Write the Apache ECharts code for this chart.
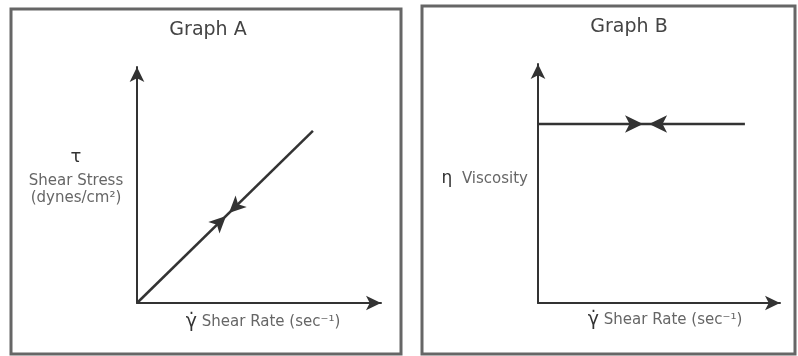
<!DOCTYPE html>
<html>
<head>
<meta charset="utf-8">
<script src="https://cdn.jsdelivr.net/npm/echarts@6/dist/echarts.min.js"></script>
<style>
html,body{margin:0;padding:0;background:#fff;}
#c{width:798px;height:356px;}
</style>
</head>
<body>
<div id="c"></div>
<script>
// ---- data ----
const titles = ['Graph A', 'Graph B'];
// Graph A: shear stress vs shear rate (straight line through origin)
const lineAX = [0, 7.21];
const lineAY = [0, 7.29];
const arrowsAX = [3.65, 3.77];
const arrowsAY = [3.69, 3.81];
// Graph B: viscosity vs shear rate (constant)
const lineBX = [0, 8.55];
const lineBY = [7.49, 7.49];
const arrowsBX = [4.34, 4.59];
const arrowsBY = [7.49, 7.49];
const axisMin = 0;
const axisMax = 10;

const FONT = 'DejaVu Sans';
const DARK = '#333';
const TXT = '#666';

function pairs(xs, ys) { return xs.map((x, i) => [x, ys[i]]); }

const axisCommon = {
  type: 'value', min: axisMin, max: axisMax,
  axisLine: { show: true, symbol: ['none', 'arrow'], symbolSize: [11, 15],
    lineStyle: { color: DARK, width: 2 } },
  axisTick: { show: false }, axisLabel: { show: false }, splitLine: { show: false }
};

const chart = echarts.init(document.getElementById('c'));
chart.setOption({
  animation: false,
  backgroundColor: '#fff',
  title: [
    { text: titles[0], left: 203, top: 16, textAlign: 'center',
      textStyle: { fontFamily: FONT, fontSize: 19, fontWeight: 'normal', color: '#444' } },
    { text: titles[1], left: 624, top: 13, textAlign: 'center',
      textStyle: { fontFamily: FONT, fontSize: 19, fontWeight: 'normal', color: '#444' } }
  ],
  graphic: [
    { type: 'rect', shape: { x: 11, y: 9, width: 390, height: 345 },
      style: { fill: 'none', stroke: '#666', lineWidth: 3 } },
    { type: 'rect', shape: { x: 422, y: 6, width: 373, height: 348 },
      style: { fill: 'none', stroke: '#666', lineWidth: 3 } }
  ],
  grid: [
    { left: 137, top: 67, width: 244, height: 236 },
    { left: 538, top: 64, width: 242, height: 239 }
  ],
  xAxis: [
    Object.assign({}, axisCommon, { gridIndex: 0, position: 'bottom',
      name: '{g|γ̇} Shear Rate (sec⁻¹)', nameLocation: 'middle', nameGap: 10,
      nameTextStyle: { verticalAlign: 'top', padding: [0, 0, 0, 8], fontFamily: FONT, fontSize: 15, color: TXT,
        rich: { g: { fontSize: 19, fontFamily: FONT, color: '#333', verticalAlign: 'middle' } } } }),
    Object.assign({}, axisCommon, { gridIndex: 1, position: 'bottom',
      name: '{g|γ̇} Shear Rate (sec⁻¹)', nameLocation: 'middle', nameGap: 8,
      nameTextStyle: { verticalAlign: 'top', padding: [0, 0, 0, 12], fontFamily: FONT, fontSize: 15, color: TXT,
        rich: { g: { fontSize: 19, fontFamily: FONT, color: '#333', verticalAlign: 'middle' } } } })
  ],
  yAxis: [
    Object.assign({}, axisCommon, { gridIndex: 0,
      name: '{t|τ}\n{s|Shear Stress}\n{s|(dynes/cm²)}', nameLocation: 'middle', nameRotate: 0, nameGap: 61,
      nameTextStyle: { align: 'center', verticalAlign: 'middle', padding: [0, 0, 22, 0], fontFamily: FONT, color: TXT,
        rich: { t: { fontSize: 18, lineHeight: 32, fontFamily: FONT, color: '#333' },
                s: { fontSize: 15, lineHeight: 17, fontFamily: FONT, color: TXT } } } }),
    Object.assign({}, axisCommon, { gridIndex: 1,
      name: '{e|η}  Viscosity', nameLocation: 'middle', nameRotate: 0, nameGap: 10,
      nameTextStyle: { align: 'right', verticalAlign: 'middle', padding: [0, 0, 9, 0], fontFamily: FONT, fontSize: 15, color: TXT,
        rich: { e: { fontSize: 17, fontFamily: FONT, color: '#333' } } } })
  ],
  series: [
    { type: 'line', xAxisIndex: 0, yAxisIndex: 0, data: pairs(lineAX, lineAY),
      symbol: 'none', lineStyle: { color: DARK, width: 2.5 } },
    { type: 'scatter', xAxisIndex: 0, yAxisIndex: 0, symbol: 'arrow', symbolSize: [12, 17],
      itemStyle: { color: DARK, opacity: 1 },
      data: pairs(arrowsAX, arrowsAY).map((p, i) => ({ value: p, symbolRotate: i === 0 ? -45.7 : 134.3 })) },
    { type: 'line', xAxisIndex: 1, yAxisIndex: 1, data: pairs(lineBX, lineBY),
      symbol: 'none', lineStyle: { color: DARK, width: 2.5 } },
    { type: 'scatter', xAxisIndex: 1, yAxisIndex: 1, symbol: 'arrow', symbolSize: [13, 18],
      itemStyle: { color: DARK, opacity: 1 },
      data: pairs(arrowsBX, arrowsBY).map((p, i) => ({ value: p, symbolRotate: i === 0 ? -90 : 90 })) }
  ]
});
</script>
</body>
</html>
